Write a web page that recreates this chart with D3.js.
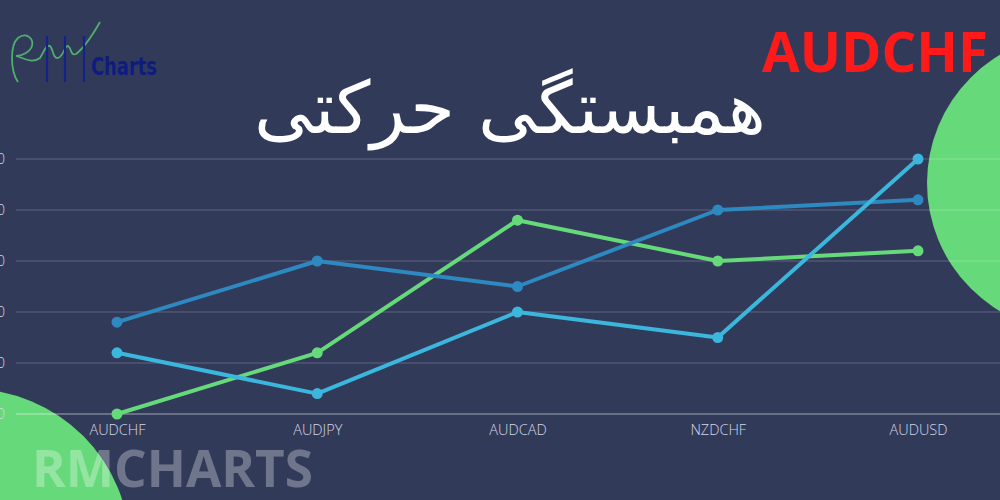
<!DOCTYPE html>
<html><head><meta charset="utf-8">
<script src="https://cdn.jsdelivr.net/npm/d3@7"></script>
<style>html,body{margin:0;padding:0;background:#323a5a;}svg{display:block;}</style>
</head><body>
<svg id="c" width="1000" height="500"></svg>
<script>
const categories = ["AUDCHF","AUDJPY","AUDCAD","NZDCHF","AUDUSD"];
const seriesDarkBlue = [18, 30, 25, 40, 42];
const seriesGreen = [0, 12, 38, 30, 32];
const seriesCyan = [12, 4, 20, 15, 50];
const yTicks = [0, 10, 20, 30, 40, 50];
const titleText = "همبستگی حرکتی";
const pairText = "AUDCHF";
const watermark = "RMCHARTS";

const svg = d3.select("#c");
svg.append("rect").attr("width",1000).attr("height",500).attr("fill","#323a5a");

// decorative circles
svg.append("circle").attr("cx",1076).attr("cy",183).attr("r",149).attr("fill","#66d97a");
svg.append("circle").attr("cx",-30).attr("cy",549).attr("r",160).attr("fill","#66d97a");

const x = d3.scalePoint().domain(categories).range([117, 918]);
const y = d3.scaleLinear().domain([0, 50]).range([414, 159]);

// gridlines
const grid = svg.append("g");
grid.selectAll("line").data(yTicks).join("line")
  .attr("x1",16).attr("x2",1000)
  .attr("y1",d=>y(d)).attr("y2",d=>y(d))
  .attr("stroke",d=>d===0?"rgba(255,255,255,0.55)":"rgba(255,255,255,0.22)")
  .attr("stroke-width",1.2);
grid.selectAll("text").data(yTicks).join("text")
  .attr("x",5).attr("y",d=>y(d)).attr("dy","0.35em")
  .attr("text-anchor","end").attr("fill","#d4d8e4")
  .attr("font-family","Open Sans").attr("font-weight",300).attr("font-size",14).text(d=>d);

// x axis labels
const xAxis = d3.axisBottom(x).tickSize(0).tickPadding(11);
const gx = svg.append("g").attr("transform","translate(0,414)").call(xAxis);
gx.select(".domain").remove();
gx.selectAll("text").attr("fill","#d4d8e4").attr("font-family","Open Sans")
  .attr("font-weight",300).attr("font-size",14.5);

const series = [
  {vals: seriesGreen, color:"#66d97a"},
  {vals: seriesDarkBlue, color:"#2d89c0"},
  {vals: seriesCyan, color:"#3bb6dc"}
];
const line = d3.line().x((d,i)=>x(categories[i])).y(d=>y(d));
series.forEach(s=>{
  svg.append("path").attr("d",line(s.vals)).attr("fill","none")
    .attr("stroke",s.color).attr("stroke-width",4).attr("stroke-linejoin","round");
  svg.append("g").selectAll("circle").data(s.vals).join("circle")
    .attr("cx",(d,i)=>x(categories[i])).attr("cy",d=>y(d)).attr("r",5.5).attr("fill",s.color);
});

// title
const t = svg.append("text").attr("x",510).attr("y",133).attr("text-anchor","middle")
  .attr("fill","#ffffff").attr("font-family","DejaVu Sans").attr("font-size",70)
  .attr("direction","rtl").text(titleText);
const tw = t.node().getComputedTextLength();
t.attr("font-size", 70*512/tw);

// pair label
const p = svg.append("text").attr("x",875).attr("y",72).attr("text-anchor","middle")
  .attr("fill","#ff1a1a").attr("font-family","Open Sans").attr("font-weight","bold")
  .attr("font-size",55).text(pairText);
const pw = p.node().getComputedTextLength();
p.attr("font-size",55*226/pw);

// watermark
const w = svg.append("text").attr("x",32).attr("y",487)
  .attr("fill","rgba(255,255,255,0.3)").attr("font-family","Open Sans").attr("font-weight","bold")
  .attr("font-size",48).text(watermark);
const ww = w.node().getComputedTextLength();
w.attr("font-size",48*281/ww);

// logo
const logo = svg.append("g");
logo.append("path").attr("d","M18,82 C10,70 10,45 18,38 C26,32 34,38 32,46 C30,52 22,56 16,56 C24,58 32,64 40,58 C44,52 46,44 50,46 C54,50 52,58 58,58 C64,56 64,46 68,46 C72,48 70,56 76,54 C84,48 92,36 100,22")
  .attr("fill","none").attr("stroke","#4fae6e").attr("stroke-width",1.8);
[47,65,84].forEach(xx=>{
  logo.append("line").attr("x1",xx).attr("x2",xx).attr("y1",36).attr("y2",82)
    .attr("stroke","#14238a").attr("stroke-width",2.2);
});
const ch = logo.append("text").attr("x",0).attr("y",0).attr("fill","#0e1c80")
  .attr("font-family","DejaVu Sans Condensed, DejaVu Sans").attr("font-weight","bold")
  .attr("font-size",28).text("Charts");
const cw = ch.node().getComputedTextLength();
ch.attr("transform",`translate(91,75) scale(${66/cw},0.9)`);
</script>
</body></html>
